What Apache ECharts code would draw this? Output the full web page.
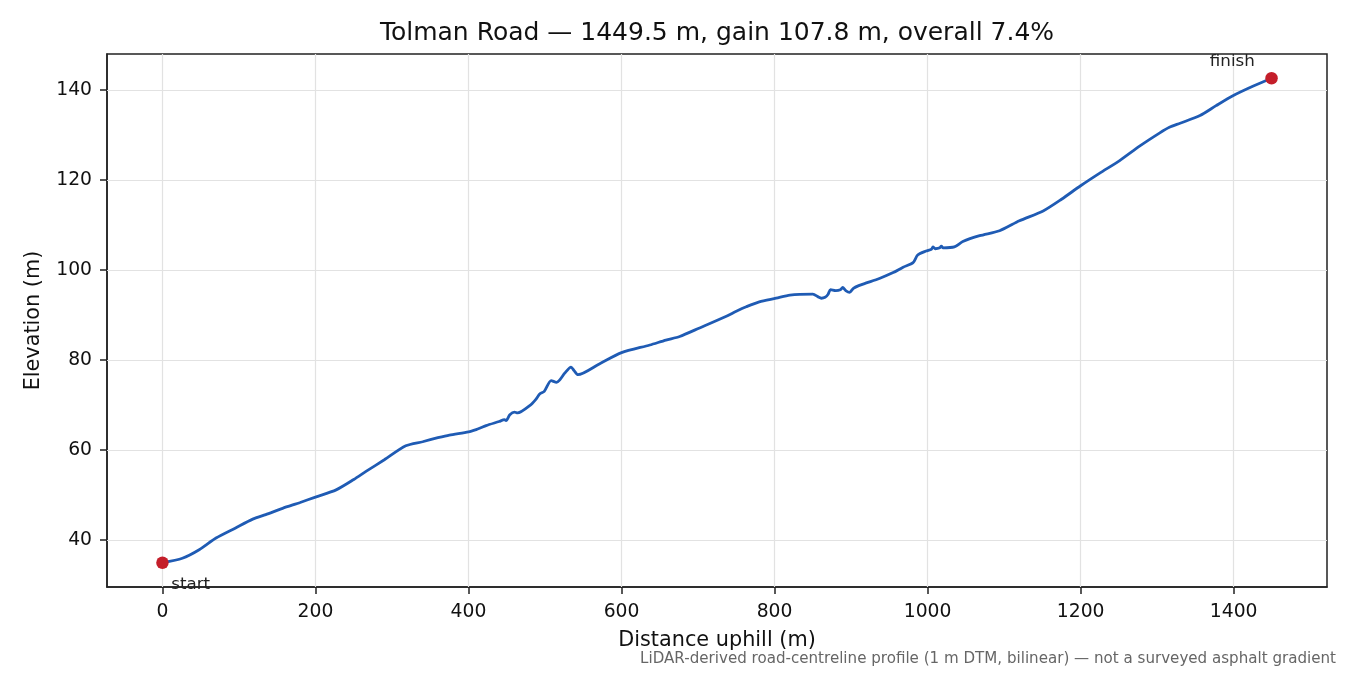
<!DOCTYPE html>
<html>
<head>
<meta charset="utf-8">
<title>Tolman Road elevation profile</title>
<script src="https://cdn.jsdelivr.net/npm/echarts@6/dist/echarts.min.js"></script>
<style>
  html, body { margin: 0; padding: 0; background: #fff; }
  #container { width: 1350px; height: 675px; }
</style>
</head>
<body>
<div id="container"></div>
<script>
// distance along the road (m) and elevation (m)
var distance = [0, 26, 48, 70, 95, 118, 135, 157, 180, 200, 227, 250, 266, 290, 318, 340, 360, 375, 400,
    410, 416, 423, 440, 447, 449, 454, 460, 464, 482, 488, 493, 499, 508, 515, 519, 526, 534, 538, 543,
    571, 600, 637, 658, 676, 702, 737, 750, 763, 780, 802, 820, 850, 857, 861, 866, 870, 873, 880, 886,
    889, 893, 898, 903, 910, 920, 937, 955, 968, 981, 987, 998, 1005, 1007, 1010, 1016, 1018, 1020,
    1035, 1046, 1068, 1094, 1120, 1151, 1175, 1200, 1225, 1251, 1277, 1303, 1316, 1330, 1356, 1377, 1399,
    1425, 1449.5];
var elevation = [34.9, 35.9, 37.8, 40.4, 42.6, 44.6, 45.6, 47.0, 48.3, 49.5, 51.1, 53.4, 55.2, 57.8, 60.9, 61.8, 62.7, 63.3, 64.0,
    64.5, 64.9, 65.4, 66.3, 66.7, 66.5, 67.8, 68.4, 68.2, 70.1, 71.2, 72.4, 73.0, 75.4, 75.0, 75.5, 77.1, 78.4, 77.6, 76.7,
    79.1, 81.6, 83.3, 84.4, 85.2, 87.1, 89.7, 90.8, 91.8, 92.9, 93.7, 94.4, 94.6, 94.0, 93.7, 93.9, 94.6, 95.6, 95.4, 95.6,
    96.1, 95.4, 95.0, 95.9, 96.5, 97.1, 98.1, 99.4, 100.6, 101.6, 103.3, 104.2, 104.6, 105.1, 104.7, 104.9, 105.3, 104.9,
    105.1, 106.3, 107.6, 108.7, 110.9, 113.1, 115.7, 118.7, 121.5, 124.3, 127.5, 130.4, 131.7, 132.6, 134.3, 136.5, 138.7,
    140.8, 142.6];

var xTicks = [0, 200, 400, 600, 800, 1000, 1200, 1400];
var yTicks = [40, 60, 80, 100, 120, 140];
var endLabels = ['start', 'finish'];

var chart = echarts.init(document.getElementById('container'));

// matplotlib-style 5 % margins around the data
var xSpan = distance[distance.length - 1] - distance[0];
var yLo = Math.min.apply(null, elevation), yHi = Math.max.apply(null, elevation);
var xMin = distance[0] - 0.05 * xSpan, xMax = distance[distance.length - 1] + 0.05 * xSpan;
var yMin = yLo - 0.05 * (yHi - yLo), yMax = yHi + 0.05 * (yHi - yLo);

var profile = distance.map(function (d, i) { return [d, elevation[i]]; });
var last = distance.length - 1;

var gridLines = xTicks.map(function (v) { return { xAxis: v }; })
    .concat(yTicks.map(function (v) { return { yAxis: v }; }));

var font = 'DejaVu Sans';
var plain = function (v) { return String(v); };

chart.setOption({
    animation: false,
    textStyle: { fontFamily: font },
    grid: {
        left: 107, right: 23, top: 54, bottom: 88,
        show: true, borderColor: '#222', borderWidth: 1.5, backgroundColor: 'transparent'
    },
    graphic: [
        {
            type: 'text', x: 717, y: 33,
            style: {
                text: 'Tolman Road \u2014 1449.5 m, gain 107.8 m, overall 7.4%',
                font: '25px "DejaVu Sans"', fill: '#111', align: 'center', verticalAlign: 'middle'
            }
        },
        {
            type: 'text', x: 1336, y: 659,
            style: {
                text: 'LiDAR-derived road-centreline profile (1 m DTM, bilinear) \u2014 not a surveyed asphalt gradient',
                font: '15.1px "DejaVu Sans"', fill: '#666', align: 'right', verticalAlign: 'middle'
            }
        }
    ],
    xAxis: {
        type: 'value', min: xMin, max: xMax,
        name: 'Distance uphill (m)', nameLocation: 'middle', nameGap: 43,
        nameTextStyle: { fontSize: 20.8, color: '#111', fontFamily: font },
        axisLine: { show: true, onZero: false, lineStyle: { color: '#222', width: 1.5 } },
        axisTick: { show: true, inside: false, length: 7, customValues: xTicks, lineStyle: { color: '#222', width: 1.5 } },
        axisLabel: { customValues: xTicks, formatter: plain, fontSize: 18.75, color: '#111', margin: 16, fontFamily: font },
        splitLine: { show: false }
    },
    yAxis: {
        type: 'value', min: yMin, max: yMax,
        name: 'Elevation (m)', nameLocation: 'middle', nameGap: 63, nameRotate: 90,
        nameTextStyle: { fontSize: 20.8, color: '#111', fontFamily: font },
        axisLine: { show: true, onZero: false, lineStyle: { color: '#222', width: 1.5 } },
        axisTick: { show: true, inside: false, length: 7, customValues: yTicks, lineStyle: { color: '#222', width: 1.5 } },
        axisLabel: { customValues: yTicks, formatter: plain, fontSize: 18.75, color: '#111', margin: 15, fontFamily: font },
        splitLine: { show: false }
    },
    series: [
        {
            // light grid at the tick positions, kept under the profile
            type: 'line', data: [], z: 1, silent: true,
            markLine: {
                z: 1, silent: true, symbol: ['none', 'none'], animation: false,
                label: { show: false },
                lineStyle: { color: '#e2e2e2', width: 1.2, type: 'solid' },
                data: gridLines
            }
        },
        {
            type: 'line', data: profile, z: 3,
            showSymbol: false, smooth: 0.25,
            lineStyle: { color: '#1f5bb4', width: 2.8 }
        },
        {
            type: 'scatter', z: 4,
            symbolSize: 12.5,
            itemStyle: { color: '#c41e2a', opacity: 1 },
            data: [
                {
                    value: profile[0],
                    label: { show: true, formatter: endLabels[0], position: [15, 28], align: 'left', verticalAlign: 'middle' }
                },
                {
                    value: profile[last],
                    label: { show: true, formatter: endLabels[1], position: [-33, -10.5], align: 'center', verticalAlign: 'middle' }
                }
            ],
            label: { fontSize: 16.7, color: '#222', fontFamily: font }
        }
    ]
});
</script>
</body>
</html>
